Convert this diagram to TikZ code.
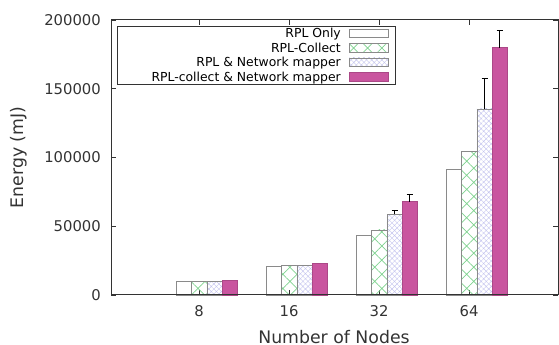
\documentclass[tikz,border=0pt]{standalone}
\usepackage{fontspec}
\setmainfont{DejaVu Sans}
\usetikzlibrary{patterns.meta}
\definecolor{barpink}{HTML}{C9559F}
\definecolor{hatchgreen}{HTML}{7FD28F}
\definecolor{hatchblue}{HTML}{C4C4EE}
\definecolor{axisgray}{HTML}{333333}
\definecolor{edgegray}{HTML}{8A8A8A}
\tikzset{
  bar/.style={draw=edgegray, line width=0.6pt},
  only/.style={bar, fill=white},
  collect/.style={bar, pattern={Hatch[angle=45,distance=10pt,line width=0.7pt]}, pattern color=hatchgreen},
  mapper/.style={bar, pattern={Hatch[angle=45,distance=3.6pt,line width=0.4pt]}, pattern color=hatchblue},
  both/.style={fill=barpink, draw=barpink!85!black, line width=0.6pt},
  errbar/.style={draw=black, line width=0.9pt},
  ticklabel/.style={font=\fontsize{14.8}{16}\selectfont, text=axisgray, inner sep=0pt},
  axislabel/.style={font=\fontsize{17.3}{19}\selectfont, text=axisgray, inner sep=0pt},
  keylabel/.style={font=\fontsize{12.4}{14}\selectfont, anchor=base east, inner sep=0pt}
}

\begin{document}
\begin{tikzpicture}[x=1pt,y=1pt]
    \useasboundingbox (0,0) rectangle (559,345);
    \begin{scope}[shift={(111,50)},y=1.375pt]
    \foreach \v/\t in {0/0,50/50000,100/100000,150/150000,200/200000} {
       \draw[axisgray,line width=0.8pt] (0,\v) -- ++(5,0) (447,\v) -- ++(-5,0);
       \node[ticklabel,anchor=east] (ytick\v) at (-10,\v) {\t};
    }
    \foreach \gx/\n in {88/8,178/16,268/32,358/64} {
       \draw[axisgray,line width=0.8pt] (\gx,200) -- ++(0,-3.5) (\gx,0) -- ++(0,3.5);
       \node[ticklabel,anchor=north,yshift=-10pt] (xtick\n) at (\gx,0) {\n};
    }
    \foreach \gx/\a/\b/\c/\d in {88/9.7/10/10/10.4, 178/21.1/21.3/21.6/22.8,
                                 268/43.6/47.3/58.7/67.9, 358/91.6/104.2/135.3/179.9} {
       \draw[only]    (\gx-22.5,0) rectangle ++(15.2,\a);
       \draw[collect] (\gx-7.3,0)  rectangle ++(15.2,\b);
       \draw[mapper]  (\gx+7.9,0)  rectangle ++(15.2,\c);
       \draw[both]    (\gx+23.1,0) rectangle ++(15.2,\d);
    }
    \foreach \ex/\lo/\hi in {283.5/58.7/61.3, 298.7/67.9/73.2, 373.5/135.3/157.3, 388.7/179.9/192.2}
       \draw[errbar] (\ex,\lo) -- (\ex,\hi) (\ex-3,\hi) -- (\ex+3,\hi);
    \draw[axisgray,line width=1pt] (0,0) rectangle (447,200);
    \node[axislabel,rotate=90] (ylab) at (-92.5,100) {Energy (mJ)};
    \node[axislabel,anchor=base,yshift=-48.3pt] (xlab) at (223,0) {Number of Nodes};
    \end{scope}
    \draw[fill=white,draw=axisgray,line width=0.9pt] (117.3,261) rectangle (395.7,319);
    \foreach \sty/\txt [count=\i] in {only/RPL Only, collect/RPL-Collect,
                                     mapper/RPL \& Network mapper, both/RPL-collect \& Network mapper} {
       \node[keylabel] (key\i) at (341,{311.8-(\i-1)*14.5-4.5}) {\txt};
       \draw[\sty] (349,{311.8-(\i-1)*14.5-4.2}) rectangle ++(39.3,8.4);
    }
\end{tikzpicture}
\end{document}
